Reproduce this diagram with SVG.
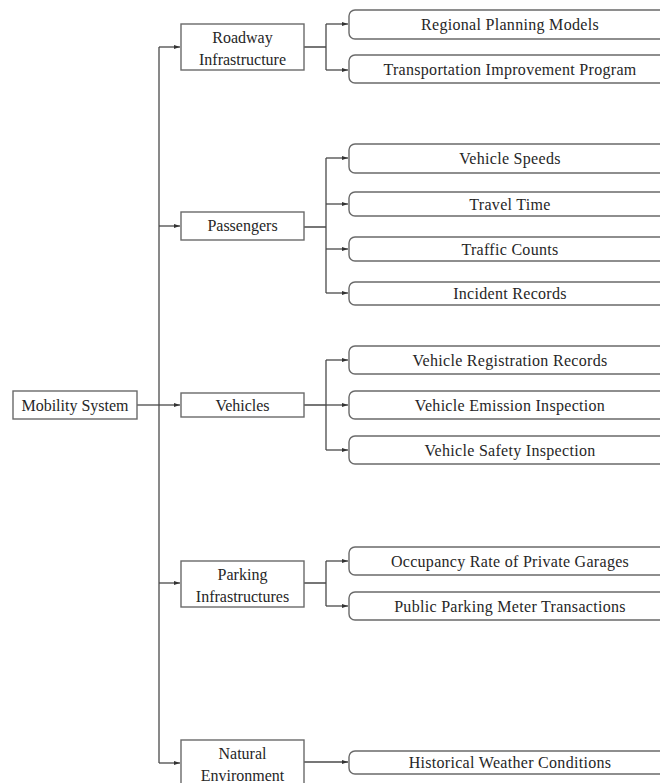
<svg xmlns="http://www.w3.org/2000/svg" width="660" height="783" viewBox="0 0 660 783">
<style>
.box{fill:#fff;stroke:#6a6a6a;stroke-width:1.4}
.leaf{fill:#fff;stroke:#6a6a6a;stroke-width:1.4}
.t{font-family:"Liberation Serif","Times New Roman",serif;font-size:16px;fill:#262626;text-anchor:middle}
.lt{letter-spacing:0.3px}
.c{fill:none;stroke:#4a4a4a;stroke-width:1.3}
</style>
<defs>
<marker id="ah" viewBox="0 0 6 4" refX="6" refY="2" markerWidth="6" markerHeight="4" markerUnits="userSpaceOnUse" orient="auto">
<path d="M0,0 L6,2 L0,4 Z" fill="#333"/>
</marker>
</defs>
<rect width="660" height="783" fill="#fff"/>
<g id="connectors">
<path class="c" d="M137,405 H159"/>
<path class="c" d="M159,47 V763"/>
<path class="c" d="M159,47 H180" marker-end="url(#ah)"/>
<path class="c" d="M159,226 H180" marker-end="url(#ah)"/>
<path class="c" d="M159,405 H180" marker-end="url(#ah)"/>
<path class="c" d="M159,583 H180" marker-end="url(#ah)"/>
<path class="c" d="M159,763 H180" marker-end="url(#ah)"/>
<path class="c" d="M304,47 H326 M326,24 V70"/>
<path class="c" d="M326,24 H348" marker-end="url(#ah)"/>
<path class="c" d="M326,70 H348" marker-end="url(#ah)"/>
<path class="c" d="M304,227 H326 M326,158 V293"/>
<path class="c" d="M326,158 H348" marker-end="url(#ah)"/>
<path class="c" d="M326,204 H348" marker-end="url(#ah)"/>
<path class="c" d="M326,249 H348" marker-end="url(#ah)"/>
<path class="c" d="M326,293 H348" marker-end="url(#ah)"/>
<path class="c" d="M304,405 H326 M326,360 V450"/>
<path class="c" d="M326,360 H348" marker-end="url(#ah)"/>
<path class="c" d="M326,405 H348" marker-end="url(#ah)"/>
<path class="c" d="M326,450 H348" marker-end="url(#ah)"/>
<path class="c" d="M304,583 H326 M326,561 V606"/>
<path class="c" d="M326,561 H348" marker-end="url(#ah)"/>
<path class="c" d="M326,606 H348" marker-end="url(#ah)"/>
<path class="c" d="M304,762 H348" marker-end="url(#ah)"/>
</g>
<g id="mobility-system"><rect class="box" x="13" y="391" width="124" height="28"/><text class="t" x="75" y="410.5">Mobility System</text></g>
<g id="roadway-infrastructure"><rect class="box" x="181" y="24" width="123" height="46"/><text class="t" x="242.5" y="43">Roadway</text><text class="t" x="242.5" y="65">Infrastructure</text></g>
<g id="passengers"><rect class="box" x="181" y="212" width="123" height="28"/><text class="t" x="242.5" y="231">Passengers</text></g>
<g id="vehicles"><rect class="box" x="181" y="393" width="123" height="24"/><text class="t" x="242.5" y="410.5">Vehicles</text></g>
<g id="parking-infrastructures"><rect class="box" x="181" y="561" width="123" height="46"/><text class="t" x="242.5" y="580">Parking</text><text class="t" x="242.5" y="602">Infrastructures</text></g>
<g id="natural-environment"><rect class="box" x="181" y="740" width="123" height="46"/><text class="t" x="242.5" y="759">Natural</text><text class="t" x="242.5" y="781">Environment</text></g>
<g id="regional-planning-models"><rect class="leaf" x="349" y="10" width="322" height="29" rx="6"/><text class="t lt" x="510" y="30">Regional Planning Models</text></g>
<g id="transportation-improvement-program"><rect class="leaf" x="349" y="55" width="322" height="28" rx="6"/><text class="t lt" x="510" y="74.5">Transportation Improvement Program</text></g>
<g id="vehicle-speeds"><rect class="leaf" x="349" y="144" width="322" height="29" rx="6"/><text class="t lt" x="510" y="164">Vehicle Speeds</text></g>
<g id="travel-time"><rect class="leaf" x="349" y="192" width="322" height="24" rx="6"/><text class="t lt" x="510" y="209.5">Travel Time</text></g>
<g id="traffic-counts"><rect class="leaf" x="349" y="237" width="322" height="24" rx="6"/><text class="t lt" x="510" y="254.5">Traffic Counts</text></g>
<g id="incident-records"><rect class="leaf" x="349" y="282" width="322" height="23" rx="6"/><text class="t lt" x="510" y="299">Incident Records</text></g>
<g id="vehicle-registration-records"><rect class="leaf" x="349" y="346" width="322" height="28" rx="6"/><text class="t lt" x="510" y="365.5">Vehicle Registration Records</text></g>
<g id="vehicle-emission-inspection"><rect class="leaf" x="349" y="391" width="322" height="28" rx="6"/><text class="t lt" x="510" y="410.5">Vehicle Emission Inspection</text></g>
<g id="vehicle-safety-inspection"><rect class="leaf" x="349" y="436" width="322" height="28" rx="6"/><text class="t lt" x="510" y="455.5">Vehicle Safety Inspection</text></g>
<g id="occupancy-rate"><rect class="leaf" x="349" y="547" width="322" height="28" rx="6"/><text class="t lt" x="510" y="566.5">Occupancy Rate of Private Garages</text></g>
<g id="public-parking-meter"><rect class="leaf" x="349" y="592" width="322" height="28" rx="6"/><text class="t lt" x="510" y="611.5">Public Parking Meter Transactions</text></g>
<g id="historical-weather"><rect class="leaf" x="349" y="751" width="322" height="23" rx="6"/><text class="t lt" x="510" y="768">Historical Weather Conditions</text></g>
</svg>
